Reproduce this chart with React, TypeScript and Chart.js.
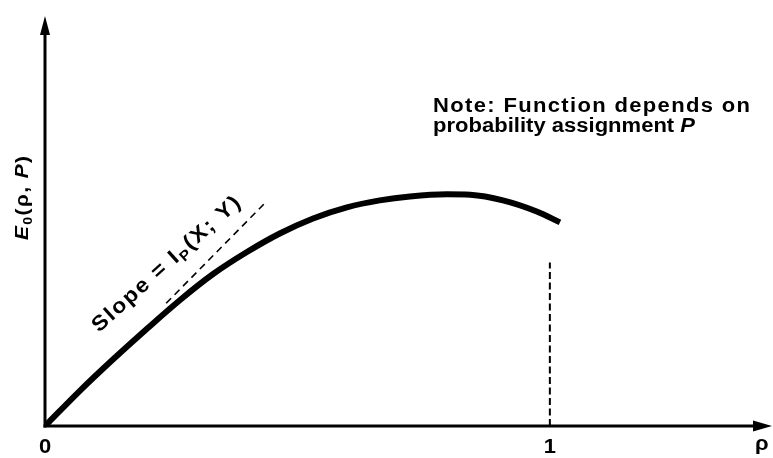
import React, { useEffect, useRef } from "react";
import { Chart, registerables } from "chart.js";

Chart.register(...registerables);

// ---- data ----
const curveRho = [0, 0.069, 0.135, 0.202, 0.267, 0.333, 0.4, 0.465, 0.531, 0.598, 0.663, 0.723, 0.796, 0.842, 0.907, 0.974, 1.02];
const curveE0 = [0, 0.152, 0.288, 0.42, 0.543, 0.656, 0.751, 0.831, 0.896, 0.944, 0.974, 0.991, 1.0, 0.998, 0.974, 0.926, 0.879];
const tangentRho = [0.24, 0.44];
const tangentE0 = [0.53, 0.972];
const markerRho = [1, 1];
const markerE0 = [0, 0.706];
const xTickValues = [0, 1, 1.42];
const xTickLabels = ["0", "1", "ρ"];
const xMax = 1.44;
const yMax = 1.77;

const FAMILY = "'Liberation Sans', Arial, Helvetica, sans-serif";

type Seg = { t: string; italic?: boolean; sub?: boolean };

const yLabel: Seg[] = [
  { t: "E", italic: true },
  { t: "0", sub: true },
  { t: "(ρ, " },
  { t: "P", italic: true },
  { t: ")" },
];
const noteLine1: Seg[] = [{ t: "Note: Function depends on" }];
const noteLine2: Seg[] = [{ t: "probability assignment " }, { t: "P", italic: true }];
const slopeLabel: Seg[] = [
  { t: "Slope = I" },
  { t: "P", sub: true },
  { t: "(X; Y)" },
];

function setFont(ctx: CanvasRenderingContext2D, s: Seg, size: number, spacing: number) {
  const fs = s.sub ? size * 0.68 : size;
  ctx.font = `${s.italic ? "italic " : ""}bold ${fs}px ${FAMILY}`;
  (ctx as any).letterSpacing = `${spacing}px`;
}

function measureSegs(ctx: CanvasRenderingContext2D, segs: Seg[], size: number, spacing: number) {
  let w = 0;
  for (const s of segs) {
    setFont(ctx, s, size, spacing);
    w += ctx.measureText(s.t).width;
  }
  return w;
}

function drawSegs(ctx: CanvasRenderingContext2D, segs: Seg[], x: number, y: number, size: number, spacing: number) {
  let cx = x;
  ctx.textAlign = "left";
  ctx.textBaseline = "alphabetic";
  for (const s of segs) {
    setFont(ctx, s, size, spacing);
    ctx.fillText(s.t, cx, y + (s.sub ? size * 0.22 : 0));
    cx += ctx.measureText(s.t).width;
  }
  return cx - x;
}

// draw a run of text stretched horizontally by sx and tracked so that it spans targetW
function drawFit(ctx: CanvasRenderingContext2D, segs: Seg[], size: number, sx: number, targetW: number) {
  const n = segs.reduce((a, s) => a + s.t.length, 0);
  const g = measureSegs(ctx, segs, size, 0);
  const sp = Math.max(0, (targetW / sx - g) / (n - 1));
  ctx.save();
  ctx.scale(sx, 1);
  drawSegs(ctx, segs, 0, 0, size, sp);
  ctx.restore();
}

const decor = {
  id: "decor",
  afterDraw(chart: any) {
    const { ctx, chartArea, scales } = chart;
    const xs = scales.x;
    const ys = scales.y;
    const x0 = xs.getPixelForValue(0);
    const y0 = ys.getPixelForValue(0);
    const top = chartArea.top;
    const right = chartArea.right;
    ctx.save();
    ctx.strokeStyle = "#000";
    ctx.fillStyle = "#000";
    ctx.lineWidth = 3;
    ctx.lineCap = "butt";
    ctx.beginPath();
    ctx.moveTo(x0, y0 + 1.5);
    ctx.lineTo(x0, top + 12);
    ctx.stroke();
    ctx.beginPath();
    ctx.moveTo(x0 - 1.5, y0);
    ctx.lineTo(right - 12, y0);
    ctx.stroke();
    // arrow heads
    ctx.beginPath();
    ctx.moveTo(x0, top);
    ctx.lineTo(x0 - 5, top + 19);
    ctx.lineTo(x0 + 5, top + 19);
    ctx.closePath();
    ctx.fill();
    ctx.beginPath();
    ctx.moveTo(right, y0);
    ctx.lineTo(right - 19, y0 - 5.5);
    ctx.lineTo(right - 19, y0 + 5.5);
    ctx.closePath();
    ctx.fill();

    // x tick labels
    xTickValues.forEach((v, i) => {
      const lab = xTickLabels[i];
      const px = xs.getPixelForValue(v);
      ctx.font = `bold 20px ${FAMILY}`;
      (ctx as any).letterSpacing = "0px";
      ctx.textAlign = "center";
      ctx.textBaseline = "alphabetic";
      ctx.save();
      ctx.translate(px, y0 + (lab === "ρ" ? 24 : 27));
      ctx.scale(1.1, 1);
      ctx.fillText(lab, 0, 0);
      ctx.restore();
    });

    // y axis label (rotated)
    ctx.save();
    ctx.translate(28, 198 + 42);
    ctx.rotate(-Math.PI / 2);
    drawFit(ctx, yLabel, 19, 1.1, 84);
    ctx.restore();

    // note
    ctx.save();
    ctx.translate(433, 112);
    drawFit(ctx, noteLine1, 20, 1.1, 317);
    ctx.restore();
    ctx.save();
    ctx.translate(433, 131.5);
    drawFit(ctx, noteLine2, 20, 1.1, 262);
    ctx.restore();

    // slope label along tangent
    ctx.save();
    ctx.translate(99, 333);
    ctx.rotate((-42 * Math.PI) / 180);
    drawFit(ctx, slopeLabel, 21, 1.1, 192);
    ctx.restore();

    ctx.restore();
  },
};

export default function App() {
  const ref = useRef<HTMLCanvasElement | null>(null);
  useEffect(() => {
    document.body.style.margin = "0";
    const canvas = ref.current;
    if (!canvas) return;
    const toXY = (xs: number[], ys: number[]) => xs.map((x, i) => ({ x, y: ys[i] }));
    const chart = new Chart(canvas, {
      type: "line",
      data: {
        datasets: [
          {
            data: toXY(curveRho, curveE0),
            borderColor: "#000",
            borderWidth: 6,
            pointRadius: 0,
            cubicInterpolationMode: "monotone",
            fill: false,
          },
          {
            data: toXY(tangentRho, tangentE0),
            borderColor: "#000",
            borderWidth: 1.6,
            borderDash: [7, 5],
            pointRadius: 0,
            fill: false,
          },
          {
            data: toXY(markerRho, markerE0),
            borderColor: "#000",
            borderWidth: 2,
            borderDash: [7, 3.5],
            pointRadius: 0,
            fill: false,
          },
        ],
      },
      options: {
        animation: false,
        responsive: true,
        maintainAspectRatio: false,
        layout: { padding: { left: 45, right: 1, top: 16, bottom: 32 } },
        plugins: { legend: { display: false }, tooltip: { enabled: false } },
        scales: {
          x: { type: "linear", min: 0, max: xMax, display: false },
          y: { type: "linear", min: 0, max: yMax, display: false },
        },
      },
      plugins: [decor],
    } as any);
    return () => chart.destroy();
  }, []);
  return (
    <div style={{ width: 773, height: 458, position: "relative" }}>
      <canvas ref={ref} />
    </div>
  );
}
